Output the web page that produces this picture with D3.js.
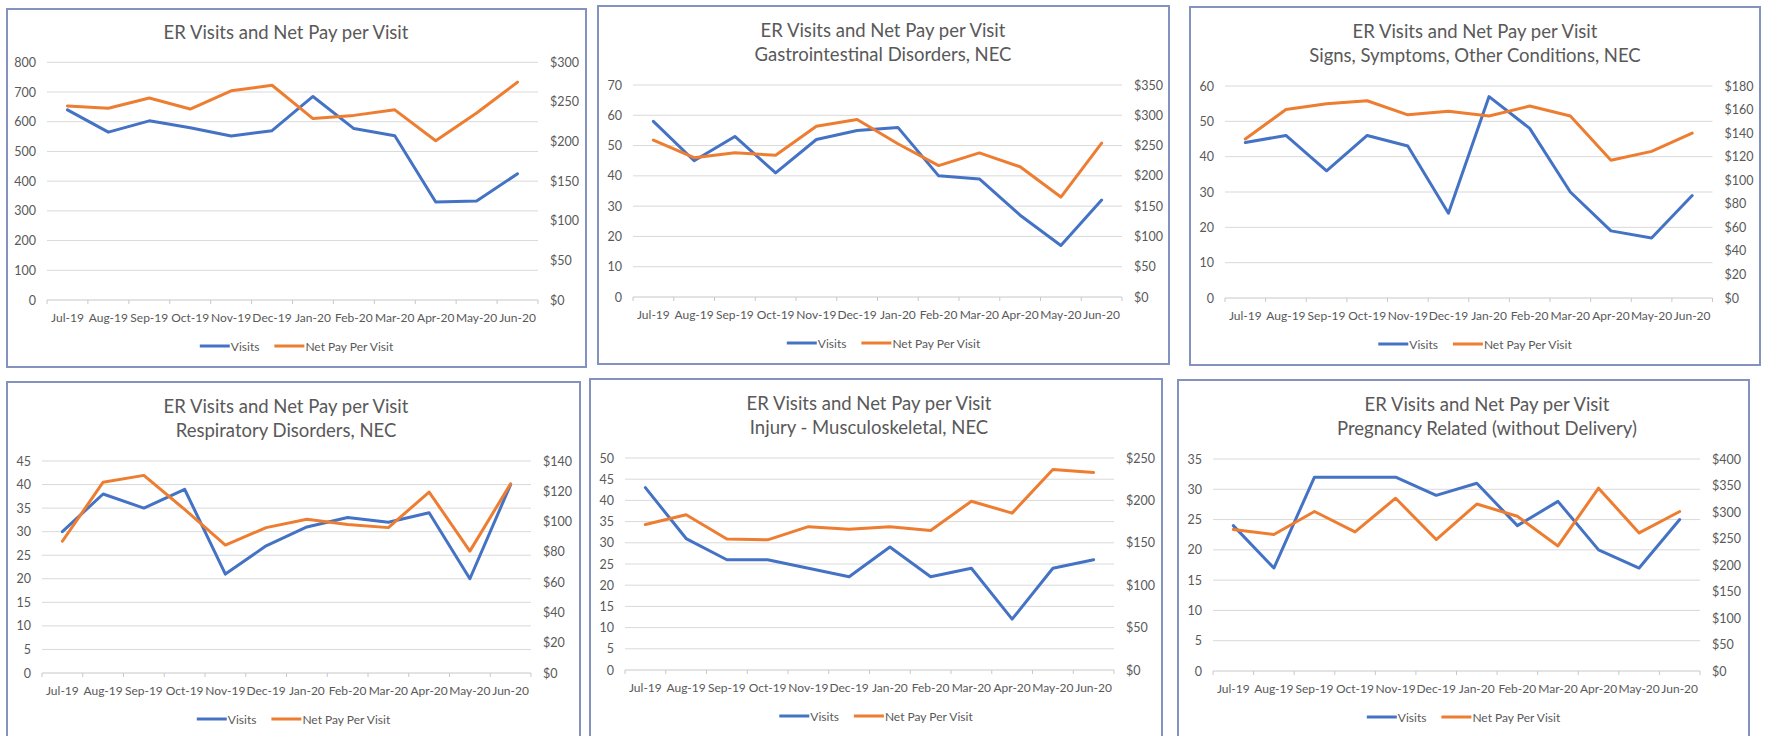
<!DOCTYPE html>
<html>
<head>
<meta charset="utf-8">
<script src="https://cdn.jsdelivr.net/npm/d3@7"></script>
<style>
  html, body { margin: 0; padding: 0; background: #ffffff; }
  svg { display: block; font-family: Lato, "Open Sans", sans-serif; }
</style>
</head>
<body>
<svg id="chart" width="1766" height="736"></svg>
<script>
// ---------- DATA ----------
const months = ["Jul-19","Aug-19","Sep-19","Oct-19","Nov-19","Dec-19","Jan-20","Feb-20","Mar-20","Apr-20","May-20","Jun-20"];
const seriesNames = ["Visits", "Net Pay Per Visit"];

const title1 = ["ER Visits and Net Pay per Visit"];
const title2 = ["ER Visits and Net Pay per Visit", "Gastrointestinal Disorders, NEC"];
const title3 = ["ER Visits and Net Pay per Visit", "Signs, Symptoms, Other Conditions, NEC"];
const title4 = ["ER Visits and Net Pay per Visit", "Respiratory Disorders, NEC"];
const title5 = ["ER Visits and Net Pay per Visit", "Injury - Musculoskeletal, NEC"];
const title6 = ["ER Visits and Net Pay per Visit", "Pregnancy Related (without Delivery)"];

const visits1 = [640, 565, 603, 580, 552, 570, 685, 577, 553, 330, 333, 425];
const pay1    = [245, 242, 255, 241, 264, 271, 229, 233, 240, 201, 236, 275];
const visits2 = [58, 45, 53, 41, 52, 55, 56, 40, 39, 27, 17, 32];
const pay2    = [259, 230, 238, 234, 282, 293, 253, 217, 238, 215, 165, 254];
const visits3 = [44, 46, 36, 46, 43, 24, 57, 48, 30, 19, 17, 29];
const pay3    = [135, 160, 165, 167.5, 155.5, 158.5, 154.5, 163, 154.5, 117, 124.5, 140];
const visits4 = [30, 38, 35, 39, 21, 27, 31, 33, 32, 34, 20, 40];
const pay4    = [87, 126, 130.5, 108, 84.5, 96, 101.5, 98, 96, 119.5, 80.5, 125];
const visits5 = [43, 31, 26, 26, 24, 22, 29, 22, 24, 12, 24, 26];
const pay5    = [171.5, 183, 154.5, 153.5, 169, 166, 169, 164.5, 199, 185, 236.5, 233];
const visits6 = [24, 17, 32, 32, 32, 29, 31, 24, 28, 20, 17, 25];
const pay6    = [267, 257.5, 301, 262.5, 326, 248, 315, 292, 236, 345, 260.5, 301];

const leftTicks1 = [0, 100, 200, 300, 400, 500, 600, 700, 800];
const rightTicks1 = [0, 50, 100, 150, 200, 250, 300];
const leftTicks2 = [0, 10, 20, 30, 40, 50, 60, 70];
const rightTicks2 = [0, 50, 100, 150, 200, 250, 300, 350];
const leftTicks3 = [0, 10, 20, 30, 40, 50, 60];
const rightTicks3 = [0, 20, 40, 60, 80, 100, 120, 140, 160, 180];
const leftTicks4 = [0, 5, 10, 15, 20, 25, 30, 35, 40, 45];
const rightTicks4 = [0, 20, 40, 60, 80, 100, 120, 140];
const leftTicks5 = [0, 5, 10, 15, 20, 25, 30, 35, 40, 45, 50];
const rightTicks5 = [0, 50, 100, 150, 200, 250];
const leftTicks6 = [0, 5, 10, 15, 20, 25, 30, 35];
const rightTicks6 = [0, 50, 100, 150, 200, 250, 300, 350, 400];

// ---------- LAYOUT / STYLE ----------
const BLUE = "#4472C4", ORANGE = "#ED7D31", TEXT = "#595959";
const panels = [
  {title: title1, visits: visits1, pay: pay1, lt: leftTicks1, rt: rightTicks1,
   box: {l: 7, t: 9, r: 586}, plotL: 47, plotR: 538, titleX: 286},
  {title: title2, visits: visits2, pay: pay2, lt: leftTicks2, rt: rightTicks2,
   box: {l: 598, t: 6, r: 1169}, plotL: 633, plotR: 1122, titleX: 883},
  {title: title3, visits: visits3, pay: pay3, lt: leftTicks3, rt: rightTicks3,
   box: {l: 1190, t: 7, r: 1760}, plotL: 1225, plotR: 1712.5, titleX: 1475},
  {title: title4, visits: visits4, pay: pay4, lt: leftTicks4, rt: rightTicks4,
   box: {l: 7, t: 382, r: 580}, plotL: 42, plotR: 531, titleX: 286},
  {title: title5, visits: visits5, pay: pay5, lt: leftTicks5, rt: rightTicks5,
   box: {l: 590, t: 379, r: 1162}, plotL: 625, plotR: 1114, titleX: 869},
  {title: title6, visits: visits6, pay: pay6, lt: leftTicks6, rt: rightTicks6,
   box: {l: 1178, t: 380, r: 1749}, plotL: 1213, plotR: 1700, titleX: 1487}
];

const svg = d3.select("#chart");

panels.forEach(p => {
  const g = svg.append("g");
  const top = p.box.t;
  const oneLine = p.title.length === 1;
  const yBase = top + 291;
  const yTopPx = oneLine ? top + 53.3 : top + 79;

  // panel frame
  g.append("rect")
    .attr("x", p.box.l).attr("y", top)
    .attr("width", p.box.r - p.box.l).attr("height", 358)
    .attr("fill", "#ffffff").attr("stroke", "#8392bf").attr("stroke-width", 2);

  // scales
  const x = d3.scaleBand().domain(months).range([p.plotL, p.plotR]);
  const yL = d3.scaleLinear().domain([0, d3.max(p.lt)]).range([yBase, yTopPx]);
  const yR = d3.scaleLinear().domain([0, d3.max(p.rt)]).range([yBase, yTopPx]);

  // title
  p.title.forEach((t, i) => {
    g.append("text")
      .attr("x", p.titleX)
      .attr("y", oneLine ? top + 23 : top + 24 + i * 24)
      .attr("text-anchor", "middle").attr("dominant-baseline", "central")
      .attr("font-size", "18.5px").attr("fill", TEXT).text(t);
  });

  // gridlines
  g.append("g").selectAll("line").data(p.lt.filter(d => d > 0)).join("line")
    .attr("x1", p.plotL).attr("x2", p.plotR)
    .attr("y1", d => yL(d)).attr("y2", d => yL(d))
    .attr("stroke", "#d9d9d9").attr("stroke-width", 1);

  // left axis labels
  g.append("g").selectAll("text").data(p.lt).join("text")
    .attr("x", p.plotL - 11).attr("y", d => yL(d))
    .attr("text-anchor", "end").attr("dominant-baseline", "central")
    .attr("font-size", "12.5px").attr("fill", TEXT).text(d => d);

  // right axis labels
  const fmt = d => "$" + d;
  g.append("g").selectAll("text").data(p.rt).join("text")
    .attr("x", p.plotR + 12).attr("y", d => yR(d))
    .attr("text-anchor", "start").attr("dominant-baseline", "central")
    .attr("font-size", "12.5px").attr("fill", TEXT).text(fmt);

  // category axis line and ticks
  g.append("line")
    .attr("x1", p.plotL).attr("x2", p.plotR).attr("y1", yBase).attr("y2", yBase)
    .attr("stroke", "#c8c8c8").attr("stroke-width", 1);
  const bounds = months.map(m => x(m)).concat([p.plotR]);
  g.append("g").selectAll("line").data(bounds).join("line")
    .attr("x1", d => d).attr("x2", d => d)
    .attr("y1", yBase).attr("y2", yBase + 4)
    .attr("stroke", "#c8c8c8").attr("stroke-width", 1);

  // category labels
  g.append("g").selectAll("text").data(months).join("text")
    .attr("x", d => x(d) + x.bandwidth() / 2).attr("y", yBase + 17)
    .attr("text-anchor", "middle").attr("dominant-baseline", "central")
    .attr("font-size", "12px").attr("fill", TEXT).text(d => d);

  // lines
  const cx = i => x(months[i]) + x.bandwidth() / 2;
  const lineL = d3.line().x((d, i) => cx(i)).y(d => yL(d));
  const lineR = d3.line().x((d, i) => cx(i)).y(d => yR(d));
  g.append("path").datum(p.visits).attr("d", lineL)
    .attr("fill", "none").attr("stroke", BLUE).attr("stroke-width", 3)
    .attr("stroke-linejoin", "round").attr("stroke-linecap", "round");
  g.append("path").datum(p.pay).attr("d", lineR)
    .attr("fill", "none").attr("stroke", ORANGE).attr("stroke-width", 3)
    .attr("stroke-linejoin", "round").attr("stroke-linecap", "round");

  // legend
  const legY = yBase + 46;
  const leg = g.append("g");
  const colors = [BLUE, ORANGE];
  let cursor = 0;
  seriesNames.forEach((name, i) => {
    const it = leg.append("g").attr("transform", `translate(${cursor},0)`);
    it.append("line").attr("x1", 0).attr("x2", 30).attr("y1", legY).attr("y2", legY)
      .attr("stroke", colors[i]).attr("stroke-width", 3);
    const tx = it.append("text").attr("x", 31).attr("y", legY)
      .attr("dominant-baseline", "central").attr("font-size", "12px")
      .attr("fill", TEXT).text(name);
    const w = tx.node().getComputedTextLength();
    cursor += 31 + w + 15;
  });
  const totalW = cursor - 15;
  const center = (p.box.l + p.box.r) / 2;
  leg.attr("transform", `translate(${center - totalW / 2},0)`);
});
</script>
</body>
</html>
